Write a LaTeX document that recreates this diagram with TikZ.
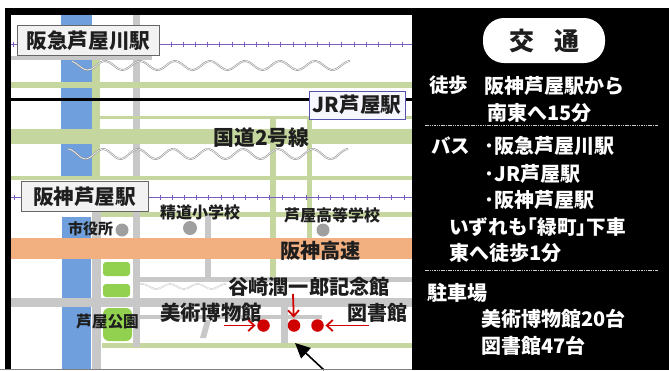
\documentclass[tikz,border=0pt]{standalone}
\usepackage{fontspec}
\setmainfont{Noto Sans CJK JP}
\newfontfamily\jp{Noto Sans CJK JP}
\usetikzlibrary{arrows.meta}
\definecolor{rv}{HTML}{6F9FDC}
\definecolor{gr}{HTML}{C5D79F}
\definecolor{rd}{HTML}{C8C8C8}
\definecolor{og}{HTML}{F2AF80}
\definecolor{pk}{HTML}{92D050}
\definecolor{rl}{HTML}{7A5FC0}
\definecolor{red1}{HTML}{D00000}
\definecolor{ink}{HTML}{1E1E1E}
\tikzset{
  x=1pt,y=-1pt,
  rvf/.style={fill=rv,draw=none},
  grf/.style={fill=gr,draw=none},
  rdf/.style={fill=rd,draw=none},
  parkf/.style={fill=pk,draw=none,rounded corners=3pt},
  wave1/.style={draw=gray!85,line width=1.8pt},
  wave2/.style={draw=white,line width=.6pt},
  rail/.style={draw=rl,line width=.8pt},
  stn/.style={draw=gray!80!black,fill=gray!10,line width=.8pt,inner sep=0pt,font=\jp\bfseries\fontsize{20.6}{21}\selectfont,text=ink},
  lab/.style={inner sep=0pt,anchor=center,text=ink,font=\jp\bfseries\fontsize{#1}{#1}\selectfont},
  wt/.style={inner sep=0pt,anchor=west,text=white,font=\jp\bfseries\fontsize{#1}{#1}\selectfont},
  dot/.style={circle,fill=#1,draw=none,inner sep=0pt,minimum size=13pt},
  rdot/.style={circle,fill=red1,draw=none,inner sep=0pt,minimum size=12.5pt},
  rarr/.style={draw=red1,line width=1.8pt,shorten >=1.5pt,-{Straight Barb[length=6pt,width=11pt]}},
  sep/.style={draw=white!80!black,line width=.8pt,dash pattern=on 1.5pt off .8pt},
}
\begin{document}
\begin{tikzpicture}
\useasboundingbox (0,0) rectangle (669,370);
\fill[white] (0,0) rectangle (669,370);
% rivers and roads
\path[rvf] (61,15) rectangle (92,129);
\path[rvf] (61,144) rectangle (92,180);
\path[rvf] (62,217) rectangle (91,238);
\path[rvf] (62,259) rectangle (91,298);
\path[rvf] (62,307) rectangle (91,370);
\path[rdf] (133,15) rectangle (140,180);
\path[grf] (92,60) rectangle (100,180);
\path[grf] (11,82) rectangle (412,88);
\path[grf] (100,116) rectangle (412,119);
\path[grf] (11,129) rectangle (412,144);
\path[grf] (11,175.5) rectangle (412,180);
\path[grf] (100,212) rectangle (412,217);
\path[grf] (270,119) rectangle (276,280);
\path[grf] (307,116) rectangle (312,240);
\path[grf] (102,343) rectangle (412,348);
\path[rdf] (92,212) rectangle (101,370);
\path[rdf] (133,212) rectangle (140,347);
\path[rdf] (205,214) rectangle (211,280);
\path[rdf] (140,277) rectangle (412,282);
\path[rdf] (11,298) rectangle (412,307);
\path[rdf] (140,315) rectangle (322,319);
\path[rdf] (281,307) rectangle (288,343);
\path[rdf] (200,338) -- (206,338) -- (211,320) -- (205,320) -- cycle;
\path[parkf] (103,262) rectangle (130,276);
\path[parkf] (103,284) rectangle (130,297);
\path[parkf,rounded corners=6pt] (103,308) rectangle (132,341);
\fill[og] (11,238) rectangle (412,259);
% waves
\foreach \st in {wave1,wave2}{
 \draw[\st] plot[smooth,domain=72:350,samples=90] (\x,{65.5-4.5*cos((\x-105)*10.2857)});
 \draw[\st] plot[smooth,domain=68:348,samples=90] (\x,{154-5*cos((\x-103)*10.2857)});
}
\draw[rd,line width=1.5pt] plot[smooth,domain=140:226,samples=30] (\x,{286.5-2.5*cos((\x-170)*13)});
\draw[white,line width=.5pt] plot[smooth,domain=140:226,samples=30] (\x,{286.5-2.5*cos((\x-170)*13)});
% railways
\draw[rail] (11,44) -- (412,44);
\draw[rail] (11,197) -- (412,197);
\foreach \k in {0,...,19}{\draw[rail] ({171+12.2*\k},41.5) -- ({171+12.2*\k},46.5);}
\foreach \k in {0,...,20}{\draw[rail] ({160+12.2*\k},194.5) -- ({160+12.2*\k},199.5);}
\draw[rail] (13,41.5) -- (13,46.5);
\draw[rail] (14,194.5) -- (14,199.5);
% JR line
\draw[black,line width=2.6pt] (11,99.5) -- (412,99.5);
% station labels
\fill[rd] (11,56) rectangle (152,59.5);
\node[stn,minimum width=142pt,minimum height=30pt] (hankyu) at (88.5,40.5) {阪急芦屋川駅};
\node[stn,minimum width=127pt,minimum height=30pt] (hanshin) at (84.5,196.5) {阪神芦屋駅};
\node[stn,draw=blue!35!gray,fill=blue!3,minimum width=96pt,minimum height=28pt] (jr) at (357,105) {JR芦屋駅};
% map labels
\node[lab=20.8] (kokudo) at (261.5,138) {国道2号線};
\node[lab=15] (shiyaku) at (90.5,229) {市役所};
\node[lab=16] (seido) at (200,212) {精道小学校};
\node[lab=16] (ashiko) at (332,215) {芦屋高等学校};
\node[lab=20.2] (kosoku) at (320.5,251) {阪神高速};
\node[lab=20.2] (tani) at (309,287) {谷崎潤一郎記念館};
\node[lab=20.4] (bijutsu) at (211,313) {美術博物館};
\node[lab=20] (tosho) at (377,313) {図書館};
\node[lab=15.7] (koen) at (107.5,322) {芦屋公園};
\node[dot=gray!75] (d1) at (122,230) {};
\node[dot=gray!75,minimum size=14pt] (d2) at (190,228) {};
\node[dot=gray!75] (d3) at (323,230) {};
\node[rdot] (r1) at (263.5,325.5) {};
\node[rdot] (r2) at (294,325.5) {};
\node[rdot] (r3) at (317.5,325.5) {};
\coordinate (a1) at (224,325.5);
\coordinate (a2) at (293,294);
\coordinate (a3) at (369,325.5);
\coordinate (a4) at (324,370);
\coordinate (a5) at (295,343);
\draw[rarr] (a1) -- (r1);
\draw[rarr] (a2) -- (r2);
\draw[rarr] (a3) -- (r3);
\draw[black,line width=1.6pt,-{Triangle[length=15pt,width=14pt]}] (a4) -- (a5);
% frame
\fill[black] (412,8) rectangle (669,370);
\fill[black] (5,8) rectangle (412,15);
\fill[black] (5,8) rectangle (11,370);
\draw[gray,line width=.8pt] (0,369.5) -- (412,369.5);
% right panel
\node[fill=white,rounded corners=21pt,minimum width=122pt,minimum height=45pt,inner sep=0pt,text=ink,font=\jp\bfseries\fontsize{25}{25}\selectfont] (title) at (544,40.5) {交\hspace{.8em}通};
\node[wt=19.5] (t1) at (429,85) {徒歩};
\node[wt=20] (t2) at (484,86) {阪神芦屋駅から};
\node[wt=20] (t3) at (487,113) {南東へ15分};
\coordinate (s1a) at (425,125.5);
\coordinate (s1b) at (658,125.5);
\draw[sep] (s1a) -- (s1b);
\node[wt=19.5] (t4) at (431,146) {バス};
\node[wt=20] (t5) at (484.5,146) {･阪急芦屋川駅};
\node[wt=20] (t6) at (484.5,174) {･JR芦屋駅};
\node[wt=20] (t7) at (484.5,200) {･阪神芦屋駅};
\node[wt=19.6] (t8) at (449,227) {いずれも｢緑町｣下車};
\node[wt=20] (t9) at (449,253) {東へ徒歩1分};
\coordinate (s2a) at (425,270);
\coordinate (s2b) at (658,270);
\draw[sep] (s2a) -- (s2b);
\node[wt=20] (t10) at (427,293) {駐車場};
\node[wt=20] (t11) at (481,319) {美術博物館20台};
\node[wt=20] (t12) at (481,346) {図書館47台};
\end{tikzpicture}
\end{document}
